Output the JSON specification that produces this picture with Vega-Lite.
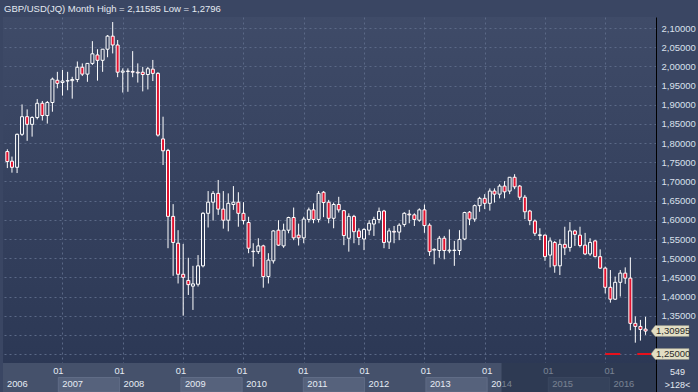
{
  "$schema": "https://vega.github.io/schema/vega-lite/v6.json",
  "background": "#3a4663",
  "padding": {"left": 3, "top": 3, "right": 4, "bottom": 0},
  "title": {"text": "GBP/USD(JQ) Month High = 2,11585 Low = 1,2796", "anchor": "start", "frame": "group", "font": "Liberation Sans", "fontSize": 9.5, "fontWeight": "normal", "color": "#e4e9f1", "offset": 4, "dx": 1},
  "spacing": 0,
  "bounds": "flush",
  "config": {"view": {"stroke": null}, "axis": {"labelOverlap": false, "labelBound": false, "labelFlush": false},
    "axisRight": {"labelOverlap": false}, "axisQuantitative": {"labelOverlap": false, "tickCount": 18}},
  "datasets": {
    "candles": [
      {"d":"2006-02-01","o":1.778,"h":1.784,"l":1.735,"c":1.752},
      {"d":"2006-03-01","o":1.753,"h":1.765,"l":1.723,"c":1.737},
      {"d":"2006-04-01","o":1.737,"h":1.825,"l":1.722,"c":1.823},
      {"d":"2006-05-01","o":1.823,"h":1.901,"l":1.819,"c":1.869},
      {"d":"2006-06-01","o":1.869,"h":1.888,"l":1.806,"c":1.849},
      {"d":"2006-07-01","o":1.849,"h":1.870,"l":1.817,"c":1.867},
      {"d":"2006-08-01","o":1.867,"h":1.915,"l":1.862,"c":1.904},
      {"d":"2006-09-01","o":1.904,"h":1.910,"l":1.859,"c":1.872},
      {"d":"2006-10-01","o":1.872,"h":1.910,"l":1.851,"c":1.906},
      {"d":"2006-11-01","o":1.906,"h":1.971,"l":1.882,"c":1.967},
      {"d":"2006-12-01","o":1.964,"h":1.986,"l":1.943,"c":1.956},
      {"d":"2007-01-01","o":1.958,"h":1.991,"l":1.924,"c":1.962},
      {"d":"2007-02-01","o":1.962,"h":1.986,"l":1.938,"c":1.963},
      {"d":"2007-03-01","o":1.963,"h":1.973,"l":1.916,"c":1.966},
      {"d":"2007-04-01","o":1.966,"h":2.013,"l":1.959,"c":1.998},
      {"d":"2007-05-01","o":1.998,"h":2.008,"l":1.975,"c":1.980},
      {"d":"2007-06-01","o":1.980,"h":2.008,"l":1.960,"c":2.008},
      {"d":"2007-07-01","o":2.008,"h":2.066,"l":2.004,"c":2.033},
      {"d":"2007-08-01","o":2.030,"h":2.045,"l":1.963,"c":2.016},
      {"d":"2007-09-01","o":2.016,"h":2.045,"l":1.986,"c":2.045},
      {"d":"2007-10-01","o":2.045,"h":2.082,"l":2.024,"c":2.079},
      {"d":"2007-11-01","o":2.079,"h":2.11585,"l":2.034,"c":2.056},
      {"d":"2007-12-01","o":2.056,"h":2.069,"l":1.972,"c":1.985},
      {"d":"2008-01-01","o":1.985,"h":1.995,"l":1.932,"c":1.988},
      {"d":"2008-02-01","o":1.988,"h":1.995,"l":1.934,"c":1.987},
      {"d":"2008-03-01","o":1.987,"h":2.040,"l":1.972,"c":1.985},
      {"d":"2008-04-01","o":1.985,"h":2.008,"l":1.958,"c":1.983},
      {"d":"2008-05-01","o":1.985,"h":1.999,"l":1.935,"c":1.979},
      {"d":"2008-06-01","o":1.979,"h":1.999,"l":1.940,"c":1.994},
      {"d":"2008-07-01","o":1.993,"h":2.017,"l":1.962,"c":1.982},
      {"d":"2008-08-01","o":1.982,"h":1.985,"l":1.817,"c":1.821},
      {"d":"2008-09-01","o":1.811,"h":1.869,"l":1.743,"c":1.780},
      {"d":"2008-10-01","o":1.781,"h":1.785,"l":1.526,"c":1.609},
      {"d":"2008-11-01","o":1.609,"h":1.641,"l":1.454,"c":1.541},
      {"d":"2008-12-01","o":1.539,"h":1.573,"l":1.434,"c":1.458},
      {"d":"2009-01-01","o":1.458,"h":1.537,"l":1.350,"c":1.450},
      {"d":"2009-02-01","o":1.442,"h":1.501,"l":1.404,"c":1.431},
      {"d":"2009-03-01","o":1.427,"h":1.480,"l":1.365,"c":1.433},
      {"d":"2009-04-01","o":1.432,"h":1.508,"l":1.426,"c":1.480},
      {"d":"2009-05-01","o":1.480,"h":1.620,"l":1.476,"c":1.617},
      {"d":"2009-06-01","o":1.617,"h":1.675,"l":1.580,"c":1.646},
      {"d":"2009-07-01","o":1.646,"h":1.675,"l":1.598,"c":1.669},
      {"d":"2009-08-01","o":1.669,"h":1.704,"l":1.613,"c":1.628},
      {"d":"2009-09-01","o":1.628,"h":1.675,"l":1.577,"c":1.599},
      {"d":"2009-10-01","o":1.599,"h":1.669,"l":1.570,"c":1.643},
      {"d":"2009-11-01","o":1.640,"h":1.688,"l":1.626,"c":1.646},
      {"d":"2009-12-01","o":1.646,"h":1.672,"l":1.582,"c":1.617},
      {"d":"2010-01-01","o":1.617,"h":1.646,"l":1.588,"c":1.598},
      {"d":"2010-02-01","o":1.593,"h":1.608,"l":1.513,"c":1.526},
      {"d":"2010-03-01","o":1.518,"h":1.539,"l":1.478,"c":1.517},
      {"d":"2010-04-01","o":1.517,"h":1.552,"l":1.511,"c":1.532},
      {"d":"2010-05-01","o":1.532,"h":1.535,"l":1.423,"c":1.452},
      {"d":"2010-06-01","o":1.452,"h":1.513,"l":1.434,"c":1.495},
      {"d":"2010-07-01","o":1.493,"h":1.573,"l":1.486,"c":1.571},
      {"d":"2010-08-01","o":1.573,"h":1.599,"l":1.532,"c":1.534},
      {"d":"2010-09-01","o":1.532,"h":1.590,"l":1.527,"c":1.573},
      {"d":"2010-10-01","o":1.573,"h":1.608,"l":1.565,"c":1.606},
      {"d":"2010-11-01","o":1.606,"h":1.632,"l":1.547,"c":1.553},
      {"d":"2010-12-01","o":1.560,"h":1.590,"l":1.533,"c":1.553},
      {"d":"2011-01-01","o":1.553,"h":1.608,"l":1.539,"c":1.602},
      {"d":"2011-02-01","o":1.601,"h":1.632,"l":1.593,"c":1.626},
      {"d":"2011-03-01","o":1.626,"h":1.643,"l":1.591,"c":1.601},
      {"d":"2011-04-01","o":1.601,"h":1.675,"l":1.593,"c":1.669},
      {"d":"2011-05-01","o":1.672,"h":1.675,"l":1.607,"c":1.645},
      {"d":"2011-06-01","o":1.646,"h":1.652,"l":1.591,"c":1.604},
      {"d":"2011-07-01","o":1.604,"h":1.645,"l":1.578,"c":1.640},
      {"d":"2011-08-01","o":1.640,"h":1.660,"l":1.619,"c":1.626},
      {"d":"2011-09-01","o":1.624,"h":1.626,"l":1.534,"c":1.559},
      {"d":"2011-10-01","o":1.552,"h":1.617,"l":1.517,"c":1.609},
      {"d":"2011-11-01","o":1.609,"h":1.613,"l":1.539,"c":1.569},
      {"d":"2011-12-01","o":1.571,"h":1.578,"l":1.534,"c":1.554},
      {"d":"2012-01-01","o":1.550,"h":1.578,"l":1.521,"c":1.575},
      {"d":"2012-02-01","o":1.573,"h":1.599,"l":1.560,"c":1.591},
      {"d":"2012-03-01","o":1.589,"h":1.608,"l":1.558,"c":1.601},
      {"d":"2012-04-01","o":1.601,"h":1.632,"l":1.591,"c":1.622},
      {"d":"2012-05-01","o":1.623,"h":1.626,"l":1.526,"c":1.541},
      {"d":"2012-06-01","o":1.542,"h":1.578,"l":1.524,"c":1.571},
      {"d":"2012-07-01","o":1.570,"h":1.584,"l":1.539,"c":1.568},
      {"d":"2012-08-01","o":1.568,"h":1.591,"l":1.547,"c":1.586},
      {"d":"2012-09-01","o":1.588,"h":1.620,"l":1.582,"c":1.617},
      {"d":"2012-10-01","o":1.615,"h":1.626,"l":1.591,"c":1.613},
      {"d":"2012-11-01","o":1.613,"h":1.617,"l":1.584,"c":1.601},
      {"d":"2012-12-01","o":1.599,"h":1.630,"l":1.595,"c":1.626},
      {"d":"2013-01-01","o":1.626,"h":1.640,"l":1.566,"c":1.585},
      {"d":"2013-02-01","o":1.586,"h":1.591,"l":1.506,"c":1.517},
      {"d":"2013-03-01","o":1.521,"h":1.526,"l":1.484,"c":1.523},
      {"d":"2013-04-01","o":1.520,"h":1.558,"l":1.501,"c":1.552},
      {"d":"2013-05-01","o":1.552,"h":1.558,"l":1.497,"c":1.520},
      {"d":"2013-06-01","o":1.519,"h":1.575,"l":1.513,"c":1.521},
      {"d":"2013-07-01","o":1.520,"h":1.545,"l":1.480,"c":1.521},
      {"d":"2013-08-01","o":1.520,"h":1.573,"l":1.508,"c":1.549},
      {"d":"2013-09-01","o":1.550,"h":1.621,"l":1.547,"c":1.619},
      {"d":"2013-10-01","o":1.620,"h":1.623,"l":1.586,"c":1.602},
      {"d":"2013-11-01","o":1.602,"h":1.640,"l":1.595,"c":1.637},
      {"d":"2013-12-01","o":1.637,"h":1.660,"l":1.621,"c":1.656},
      {"d":"2014-01-01","o":1.656,"h":1.667,"l":1.628,"c":1.643},
      {"d":"2014-02-01","o":1.643,"h":1.682,"l":1.624,"c":1.675},
      {"d":"2014-03-01","o":1.675,"h":1.682,"l":1.645,"c":1.667},
      {"d":"2014-04-01","o":1.667,"h":1.693,"l":1.656,"c":1.688},
      {"d":"2014-05-01","o":1.688,"h":1.701,"l":1.656,"c":1.673},
      {"d":"2014-06-01","o":1.675,"h":1.711,"l":1.667,"c":1.711},
      {"d":"2014-07-01","o":1.711,"h":1.719,"l":1.680,"c":1.686},
      {"d":"2014-08-01","o":1.688,"h":1.691,"l":1.652,"c":1.659},
      {"d":"2014-09-01","o":1.659,"h":1.665,"l":1.602,"c":1.621},
      {"d":"2014-10-01","o":1.623,"h":1.626,"l":1.586,"c":1.598},
      {"d":"2014-11-01","o":1.597,"h":1.601,"l":1.558,"c":1.565},
      {"d":"2014-12-01","o":1.559,"h":1.578,"l":1.547,"c":1.561},
      {"d":"2015-01-01","o":1.560,"h":1.562,"l":1.493,"c":1.504},
      {"d":"2015-02-01","o":1.508,"h":1.554,"l":1.476,"c":1.545},
      {"d":"2015-03-01","o":1.541,"h":1.545,"l":1.462,"c":1.480},
      {"d":"2015-04-01","o":1.480,"h":1.549,"l":1.456,"c":1.536},
      {"d":"2015-05-01","o":1.536,"h":1.582,"l":1.508,"c":1.527},
      {"d":"2015-06-01","o":1.528,"h":1.594,"l":1.517,"c":1.571},
      {"d":"2015-07-01","o":1.571,"h":1.574,"l":1.532,"c":1.562},
      {"d":"2015-08-01","o":1.560,"h":1.582,"l":1.528,"c":1.533},
      {"d":"2015-09-01","o":1.534,"h":1.566,"l":1.508,"c":1.511},
      {"d":"2015-10-01","o":1.511,"h":1.552,"l":1.506,"c":1.541},
      {"d":"2015-11-01","o":1.545,"h":1.547,"l":1.502,"c":1.504},
      {"d":"2015-12-01","o":1.504,"h":1.523,"l":1.472,"c":1.474},
      {"d":"2016-01-01","o":1.474,"h":1.478,"l":1.408,"c":1.424},
      {"d":"2016-02-01","o":1.424,"h":1.469,"l":1.384,"c":1.393},
      {"d":"2016-03-01","o":1.393,"h":1.452,"l":1.391,"c":1.437},
      {"d":"2016-04-01","o":1.437,"h":1.469,"l":1.400,"c":1.461},
      {"d":"2016-05-01","o":1.461,"h":1.476,"l":1.433,"c":1.448},
      {"d":"2016-06-01","o":1.448,"h":1.502,"l":1.312,"c":1.330},
      {"d":"2016-07-01","o":1.330,"h":1.348,"l":1.2796,"c":1.322},
      {"d":"2016-08-01","o":1.322,"h":1.339,"l":1.285,"c":1.314},
      {"d":"2016-09-01","o":1.315,"h":1.347,"l":1.300,"c":1.30995}
    ],
    "years": [
      {"year":2006,"start":"2006-01-01","end":"2007-01-01"},
      {"year":2007,"start":"2007-01-01","end":"2008-01-01"},
      {"year":2008,"start":"2008-01-01","end":"2009-01-01"},
      {"year":2009,"start":"2009-01-01","end":"2010-01-01"},
      {"year":2010,"start":"2010-01-01","end":"2011-01-01"},
      {"year":2011,"start":"2011-01-01","end":"2012-01-01"},
      {"year":2012,"start":"2012-01-01","end":"2013-01-01"},
      {"year":2013,"start":"2013-01-01","end":"2014-01-01"},
      {"year":2014,"start":"2014-01-01","end":"2015-01-01"},
      {"year":2015,"start":"2015-01-01","end":"2016-01-01"},
      {"year":2016,"start":"2016-01-01","end":"2017-01-01"}
    ],
    "levels": [
      {"price":1.30995,"label":"1,30995"},
      {"price":1.25,"label":"1,25000","since":"2016-01-01"}
    ],
    "window": [
      {"from":"2014-03-28","to":"2016-12-31"}
    ]
  },
  "vconcat": [
    {
      "width": 653,
      "height": 346,
      "view": {"stroke": null, "fill": {"gradient": "linear", "x1": 0, "y1": 0, "x2": 0, "y2": 1, "stops": [{"offset": 0, "color": "#3f4b68"}, {"offset": 1, "color": "#2c3855"}]}},
      "layer": [
        {
          "data": {"name": "candles"},
          "mark": {"type": "rule", "color": "#ffffff", "strokeWidth": 1, "clip": true},
          "encoding": {
            "x": {"field": "d", "type": "temporal",
              "scale": {"type": "utc", "domain": [{"year": 2006, "month": 2, "date": 5, "utc": true}, {"year": 2016, "month": 10, "date": 4, "utc": true}]},
              "axis": {"orient": "bottom", "zindex": 0, "labels": false, "ticks": false, "title": null, "domainColor": "#000000", "domainWidth": 1, "grid": true, "gridColor": "#5b6987", "gridDash": [2, 3], "gridWidth": 1, "tickCount": 12,
                "values": [{"year":2007,"month":1,"date":1,"utc":true},{"year":2008,"month":1,"date":1,"utc":true},{"year":2009,"month":1,"date":1,"utc":true},{"year":2010,"month":1,"date":1,"utc":true},{"year":2011,"month":1,"date":1,"utc":true},{"year":2012,"month":1,"date":1,"utc":true},{"year":2013,"month":1,"date":1,"utc":true},{"year":2014,"month":1,"date":1,"utc":true},{"year":2015,"month":1,"date":1,"utc":true},{"year":2016,"month":1,"date":1,"utc":true}]}},
            "y": {"field": "l", "type": "quantitative",
              "scale": {"domain": [1.2266, 2.129], "zero": false, "nice": false},
              "axis": {"orient": "right", "zindex": 0, "title": null, "tickCount": 18, "values": [1.25, 1.3, 1.35, 1.4, 1.45, 1.5, 1.55, 1.6, 1.65, 1.7, 1.75, 1.8, 1.85, 1.9, 1.95, 2.0, 2.05, 2.1],
                "labelExpr": "datum.value < 1.34 ? '' : replace(format(datum.value, '.5f'), '.', ',')",
                "labelColor": "#d9e0ec",
                "ticks": false, "labelPadding": 5, "labelFont": "Liberation Sans", "labelFontSize": 9.5, "labelOverlap": false, "labelBound": false, "labelFlush": false, "labelSeparation": 0,
                "domainColor": "#000000", "domainWidth": 1, "grid": true, "gridColor": "#5b6987", "gridDash": [2, 3], "gridWidth": 1, "minExtent": 42, "maxExtent": 42}},
            "y2": {"field": "h"}
          }
        },
        {
          "data": {"name": "candles"},
          "mark": {"type": "bar", "size": 3, "stroke": "#ffffff", "strokeWidth": 1, "clip": true},
          "encoding": {
            "x": {"field": "d", "type": "temporal"},
            "y": {"field": "o", "type": "quantitative"},
            "y2": {"field": "c"},
            "fill": {"condition": {"test": "datum.c < datum.o", "value": "#e3122f"}, "value": "#35415e"}
          }
        },
        {
          "data": {"name": "levels"},
          "transform": [{"filter": "isValid(datum.since)"}],
          "mark": {"type": "rule", "color": "#e8101c", "strokeWidth": 2, "strokeDash": [15, 17]},
          "encoding": {
            "x": {"field": "since", "type": "temporal"},
            "x2": {"datum": {"year": 2016, "month": 10, "date": 4, "utc": true}},
            "y": {"field": "price", "type": "quantitative"}
          }
        },
        {
          "data": {"name": "levels"},
          "mark": {"type": "point", "shape": "M0,0L0.22,-0.29L2,-0.29L2,0.29L0.22,0.29Z", "size": 1444, "filled": true, "fill": "#e2dec4", "stroke": "#8b8d80", "strokeWidth": 0.5, "opacity": 1, "clip": false},
          "encoding": {
            "x": {"datum": {"year": 2016, "month": 10, "date": 4, "utc": true}, "type": "temporal"},
            "y": {"field": "price", "type": "quantitative"}
          }
        },
        {
          "data": {"name": "levels"},
          "mark": {"type": "text", "align": "left", "baseline": "middle", "dx": 5, "font": "Liberation Sans", "fontSize": 9.5, "color": "#2b2b2b", "clip": false},
          "encoding": {
            "x": {"datum": {"year": 2016, "month": 10, "date": 4, "utc": true}, "type": "temporal"},
            "y": {"field": "price", "type": "quantitative"},
            "text": {"field": "label"}
          }
        }
      ]
    },
    {
      "width": 653,
      "height": 29,
      "view": {"stroke": null, "fill": "#45516b"},
      "layer": [
        {
          "data": {"name": "years"},
          "transform": [{"filter": "datum.year % 2 == 1"}],
          "mark": {"type": "rect", "fill": "#56627c", "stroke": "#606c86", "strokeWidth": 1, "clip": true},
          "encoding": {
            "x": {"field": "start", "type": "temporal",
              "scale": {"type": "utc", "clamp": true, "domain": [{"year": 2006, "month": 2, "date": 5, "utc": true}, {"year": 2016, "month": 10, "date": 4, "utc": true}]},
              "axis": null},
            "x2": {"field": "end"},
            "y": {"datum": "year", "type": "nominal",
              "scale": {"domain": ["month", "year"], "paddingInner": 0, "paddingOuter": 0},
              "axis": {"orient": "right", "labels": false, "ticks": false, "domainColor": "#000000", "domainWidth": 1,
                "title": ["549", ">128<"], "titleAngle": 0, "titleAlign": "center", "titleBaseline": "middle", "titleX": 21, "titleY": 8.5,
                "titleFont": "Liberation Sans", "titleFontSize": 9, "titleFontWeight": "normal", "titleColor": "#e4e9f1", "titleLineHeight": 12.5,
                "minExtent": 42, "maxExtent": 42}}
          }
        },
        {
          "data": {"name": "years"},
          "mark": {"type": "text", "align": "left", "baseline": "middle", "dx": 4, "dy": -1, "font": "Liberation Sans", "fontSize": 9.3, "color": "#e6ecf4", "clip": true},
          "encoding": {
            "x": {"field": "start", "type": "temporal"},
            "y": {"datum": "year", "type": "nominal"},
            "text": {"field": "year", "type": "nominal"}
          }
        },
        {
          "data": {"name": "years"},
          "transform": [{"filter": "datum.year >= 2007"}],
          "mark": {"type": "text", "align": "center", "baseline": "middle", "dy": 1, "font": "Liberation Sans", "fontSize": 9.3, "color": "#e6ecf4", "clip": true},
          "encoding": {
            "x": {"field": "start", "type": "temporal"},
            "y": {"datum": "month", "type": "nominal"},
            "text": {"value": "01"}
          }
        },
        {
          "data": {"name": "window"},
          "mark": {"type": "rect", "fill": "#1c2840", "opacity": 0.55, "clip": true},
          "encoding": {
            "x": {"field": "from", "type": "temporal"},
            "x2": {"field": "to"}
          }
        }
      ]
    }
  ]
}
